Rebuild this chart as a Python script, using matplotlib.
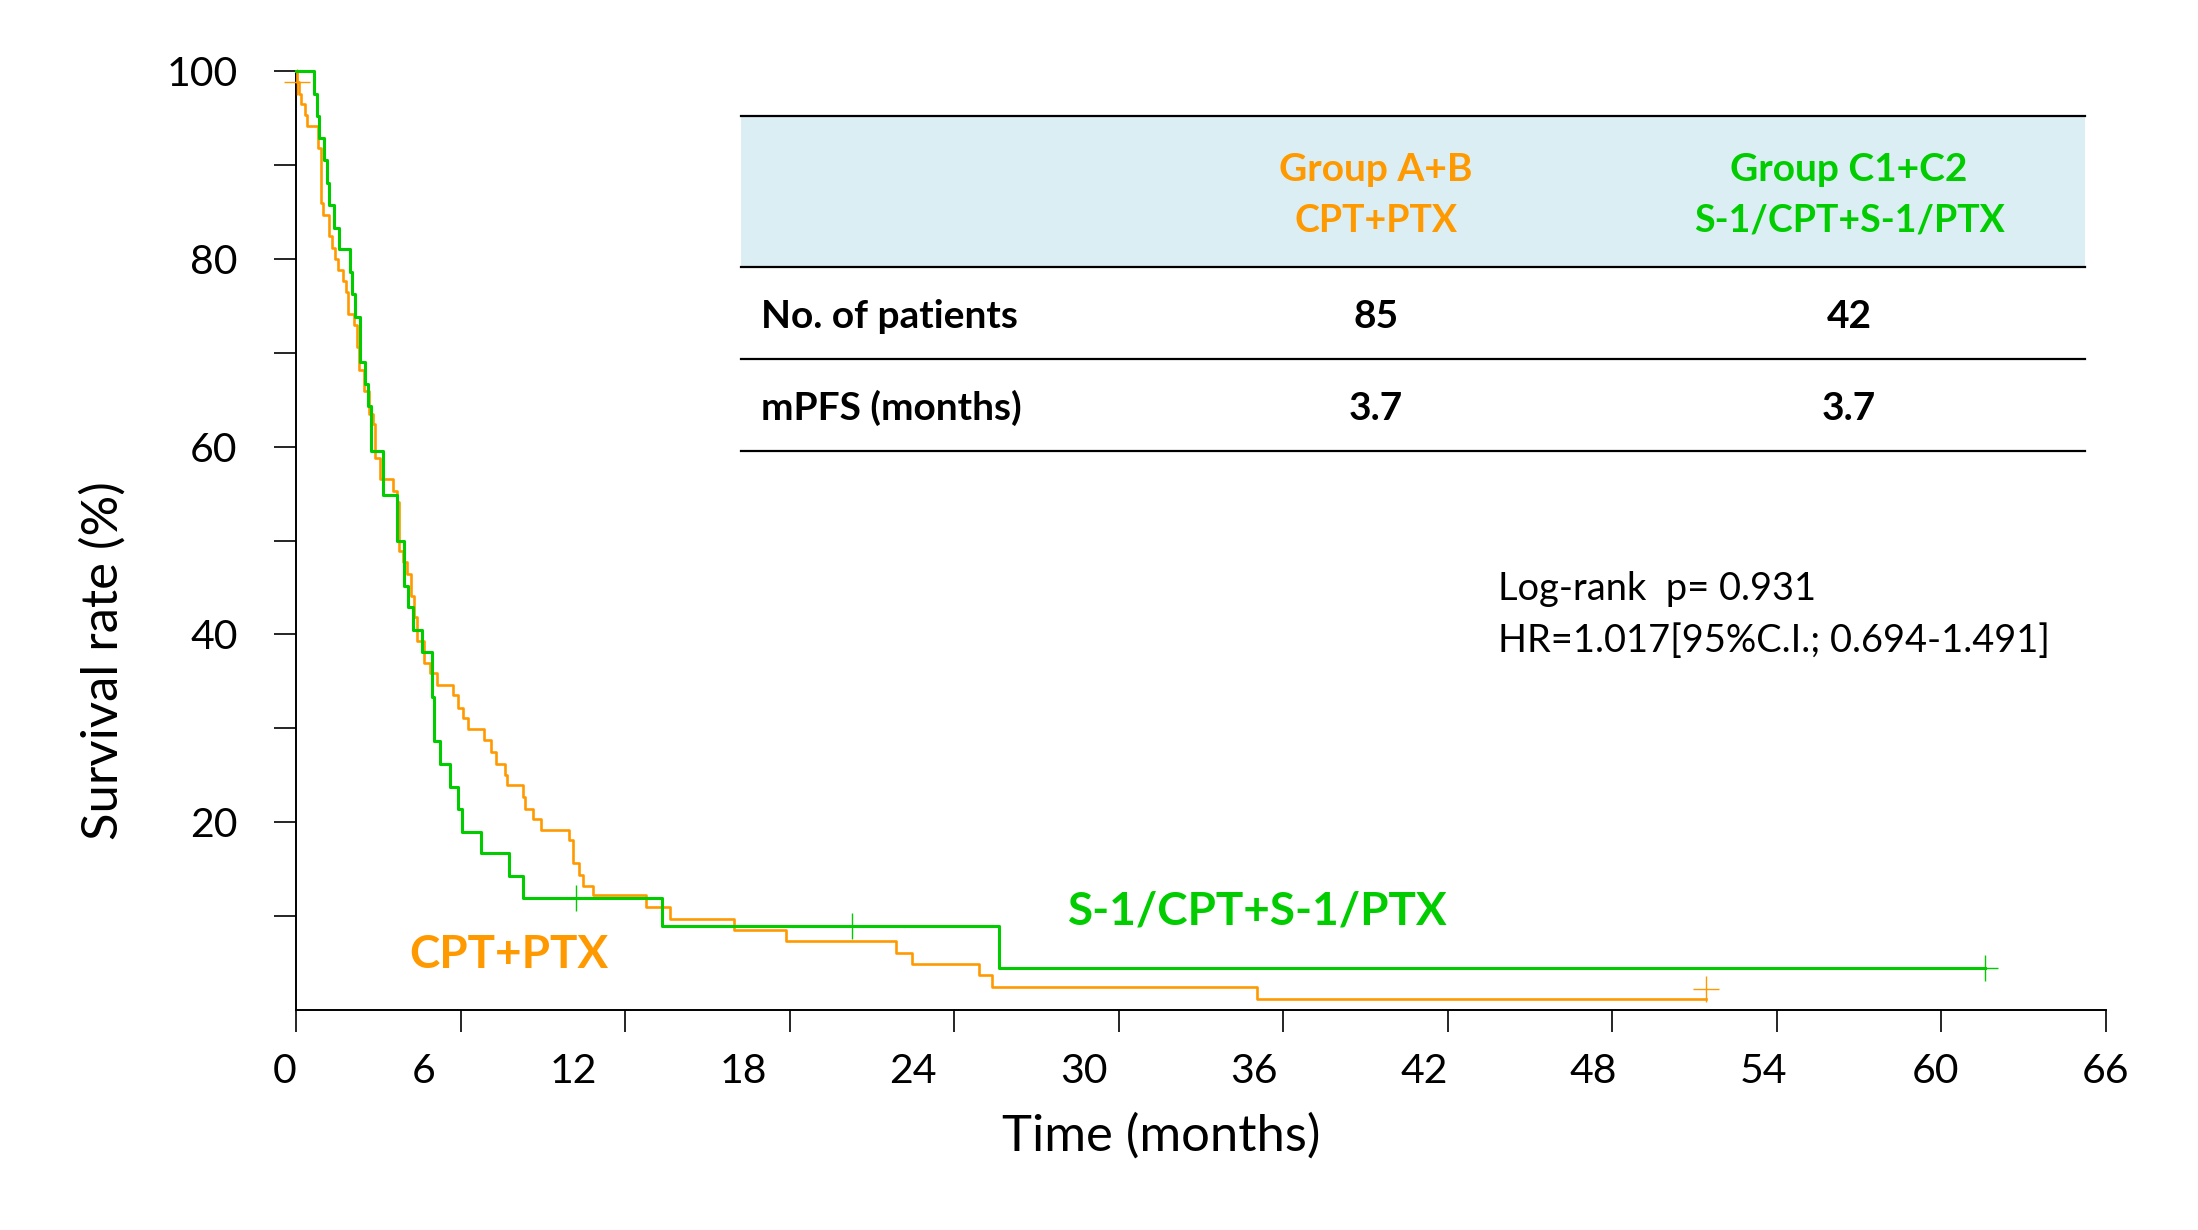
import matplotlib
matplotlib.use("Agg")
import matplotlib.pyplot as plt
import matplotlib.transforms as mtransforms
from matplotlib.patches import Rectangle
from matplotlib.lines import Line2D

plt.rcParams['font.family'] = ['Lato', 'DejaVu Sans']

# ---------------- data ----------------
# Group A+B  (CPT+PTX), n=85 : step times (months) and survival (%) after each step
orange_t = [0, 0.02, 0.10, 0.18, 0.33, 0.41, 0.81, 0.91, 1.00, 1.22,
            1.30, 1.42, 1.54, 1.73, 1.82, 1.91, 2.12, 2.21, 2.31, 2.48,
            2.68, 2.80, 2.88, 3.06, 3.55, 3.67, 3.76, 3.89, 4.04, 4.19,
            4.32, 4.40, 4.68, 4.89, 5.15, 5.71, 5.90, 6.08, 6.26, 6.86,
            7.11, 7.29, 7.62, 7.68, 8.29, 8.35, 8.65, 8.92, 9.97, 10.09,
            10.33, 10.45, 10.82, 12.76, 13.62, 15.96, 17.86, 21.88, 22.45, 24.92,
            25.37, 35.05, 51.41]
orange_s = [100, 98.8, 97.6, 96.5, 95.3, 94.1, 91.8, 85.9, 84.7, 82.4,
            81.2, 80.0, 78.8, 77.6, 76.5, 74.1, 72.9, 70.6, 68.2, 65.9,
            63.5, 62.4, 58.8, 56.5, 55.3, 54.1, 48.9, 47.7, 46.4, 44.1,
            41.9, 39.3, 37.0, 35.9, 34.6, 33.5, 32.2, 31.1, 29.9, 28.8,
            27.5, 26.2, 25.0, 24.0, 22.7, 21.4, 20.3, 19.2, 18.1, 15.7,
            14.4, 13.2, 12.2, 11.0, 9.7, 8.5, 7.3, 6.1, 4.9, 3.7,
            2.4, 1.2, 1.2]
orange_cens_t = [0.03, 51.41]
orange_cens_s = [98.8, 2.2]

# Group C1+C2 (S-1/CPT+S-1/PTX), n=42
green_t = [0, 0.66, 0.75, 0.84, 1.02, 1.12, 1.21, 1.40, 1.58, 1.97,
           2.05, 2.15, 2.33, 2.53, 2.61, 2.72, 3.18, 3.67, 3.94, 4.10,
           4.28, 4.61, 4.97, 5.04, 5.25, 5.61, 5.89, 6.07, 6.75, 7.78,
           8.27, 13.33, 25.65, 61.6]
green_s = [100, 97.6, 95.2, 92.9, 90.5, 88.1, 85.7, 83.3, 81.0, 78.6,
           76.2, 73.8, 69.0, 66.7, 64.3, 59.5, 54.8, 50.0, 45.2, 42.9,
           40.5, 38.1, 33.3, 28.6, 26.2, 23.8, 21.4, 19.0, 16.7, 14.3,
           11.9, 8.9, 4.5, 4.5]
green_cens_t = [10.21, 20.28, 61.6]
green_cens_s = [11.9, 8.9, 4.5]

x_ticks = [0, 6, 12, 18, 24, 30, 36, 42, 48, 54, 60, 66]
y_ticks = [10, 20, 30, 40, 50, 60, 70, 80, 90, 100]
y_tick_labels = ['', '20', '', '40', '', '60', '', '80', '', '100']

table_cols = ['Group A+B\nCPT+PTX', 'Group C1+C2\nS-1/CPT+S-1/PTX']
table_rows = ['No. of patients', 'mPFS (months)']
table_vals = [['85', '42'], ['3.7', '3.7']]

stats_lines = ['Log-rank  p= 0.931', 'HR=1.017[95%C.I.; 0.694-1.491]']

ORANGE = '#FF9900'
GREEN = '#00CC00'
HEADER_BG = '#DAEEF3'

# ---------------- figure ----------------
W, H, DPI = 2198, 1230, 100
fig = plt.figure(figsize=(W / DPI, H / DPI), dpi=DPI)
fig.patch.set_facecolor('white')


def fx(px):
    return px / W


def fy(py):
    return 1 - py / H


ax_l, ax_r, ax_t, ax_b = 296, 2106, 71, 1010
ax = fig.add_axes([fx(ax_l), fy(ax_b), fx(ax_r) - fx(ax_l), fy(ax_t) - fy(ax_b)])
ax.set_xlim(0, 66)
ax.set_ylim(0, 100)
for s in ['top', 'right']:
    ax.spines[s].set_visible(False)
for s in ['left', 'bottom']:
    ax.spines[s].set_linewidth(1.4)

ax.set_xticks(x_ticks)
ax.set_xticklabels([str(v) for v in x_ticks])
ax.set_yticks(y_ticks)
ax.set_yticklabels(y_tick_labels)
ax.tick_params(axis='both', direction='out', length=16, width=1.2,
               labelsize=29.5, colors='black')
ax.tick_params(axis='x', pad=15)
ax.tick_params(axis='y', pad=26)

# shift x tick labels as in the reference
x_label_shift_px = [-11, -37, -52, -46, -41, -35, -29, -24, -19, -13, -6, 0]
for lbl, dx in zip(ax.get_xticklabels(), x_label_shift_px):
    lbl.set_transform(lbl.get_transform() +
                      mtransforms.ScaledTranslation(dx / DPI, 0, fig.dpi_scale_trans))

# curves
ax.step(orange_t, orange_s, where='post', color=ORANGE, lw=1.9,
        clip_on=False, zorder=3)
ax.plot(orange_cens_t, orange_cens_s, ls='none', marker='+', ms=19, mew=1.0,
        color=ORANGE, clip_on=False, zorder=3)
ax.step(green_t, green_s, where='post', color=GREEN, lw=2.2,
        clip_on=False, zorder=4)
ax.plot(green_cens_t, green_cens_s, ls='none', marker='+', ms=19, mew=1.0,
        color=GREEN, clip_on=False, zorder=4)

# axis labels
ax.set_xlabel('Time (months)', fontsize=36.5)
ax.xaxis.label.set_va('center')
ax.xaxis.set_label_coords(0.478, -0.134)
ax.set_ylabel('Survival rate (%)', fontsize=36.5)
ax.yaxis.label.set_va('center')
ax.yaxis.set_label_coords(-0.1066, 0.372)

# curve labels
ax.text(7.77, 5.9, 'CPT+PTX', color=ORANGE, fontsize=33, fontweight='bold',
        ha='center', va='center')
ax.text(35.08, 10.5, 'S-1/CPT+S-1/PTX', color=GREEN, fontsize=33,
        fontweight='bold', ha='center', va='center')

# stats text
fig.text(fx(1498), fy(589), stats_lines[0], fontsize=27.4, ha='left', va='center')
fig.text(fx(1498), fy(641), stats_lines[1], fontsize=27.4, ha='left', va='center')

# ---------------- table ----------------
t_l, t_r = 741, 2085
y_top, y_head, y_row1, y_bot = 116, 267, 359, 451
fig.add_artist(Rectangle((fx(t_l), fy(y_head)), fx(t_r) - fx(t_l),
                         fy(y_top) - fy(y_head), transform=fig.transFigure,
                         facecolor=HEADER_BG, edgecolor='none', zorder=1))
for yy in [y_top, y_head, y_row1, y_bot]:
    fig.add_artist(Line2D([fx(t_l), fx(t_r)], [fy(yy), fy(yy)],
                          transform=fig.transFigure, color='black', lw=1.6,
                          zorder=2))

col_x = [1376, 1849]
col_colors = [ORANGE, GREEN]
for cx, txt, cc in zip(col_x, table_cols, col_colors):
    l1, l2 = txt.split('\n')
    fig.text(fx(cx), fy(181), l1, color=cc, fontsize=28, fontweight='bold',
             ha='center', va='baseline', zorder=3)
    fig.text(fx(cx), fy(232), l2, color=cc, fontsize=27, fontweight='bold',
             ha='center', va='baseline', zorder=3)

row_base = [328, 420]
for rb, rname, vals in zip(row_base, table_rows, table_vals):
    fig.text(fx(761), fy(rb), rname, fontsize=28, fontweight='bold',
             ha='left', va='baseline', zorder=3)
    for cx, v in zip(col_x, vals):
        fig.text(fx(cx), fy(rb), v, fontsize=28, fontweight='bold',
                 ha='center', va='baseline', zorder=3)

fig.savefig('out.png', dpi=DPI, facecolor='white')
